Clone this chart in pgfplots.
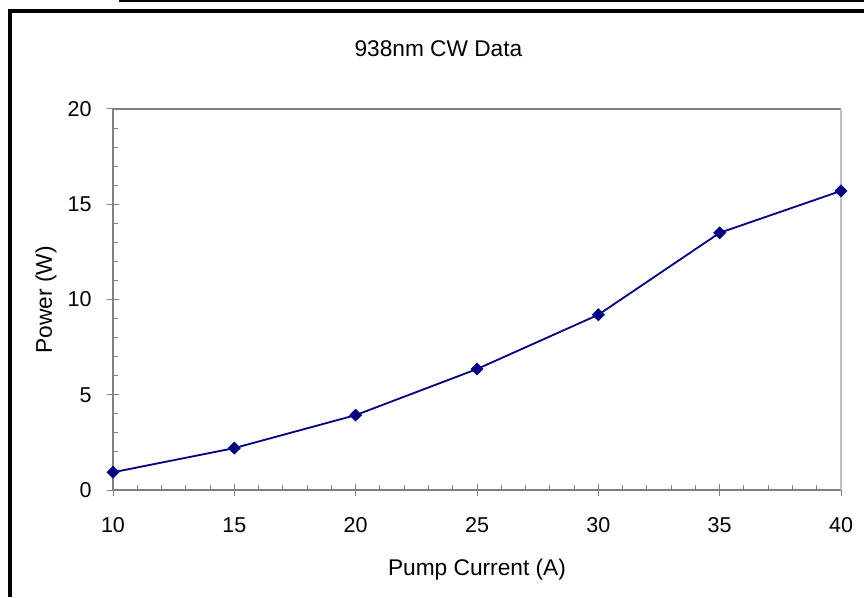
\documentclass[border=0pt]{standalone}
\usepackage{pgfplots}
\pgfplotsset{compat=1.18}
\usepackage{fontspec}
\setmainfont{Liberation Sans}
\definecolor{navyline}{RGB}{0,0,128}
\definecolor{axgray}{RGB}{128,128,128}
\definecolor{silverline}{RGB}{192,192,192}
\begin{document}
\begin{tikzpicture}[x=1pt,y=1pt]
\path[use as bounding box] (0,0) rectangle (864,597);
% outer frame
\draw[line width=4pt] (9.5,0) -- (9.5,585.7) -- (864,585.7);
\draw[line width=2pt] (119,596) -- (864,596);
\begin{axis}[
  at={(113pt,107pt)}, anchor=south west,
  scale only axis, width=728pt, height=381pt,
  xmin=10, xmax=40, ymin=0, ymax=20,
  axis lines=left, axis line style={-, axgray, line width=1.2pt},
  xtick={10,15,...,40}, ytick={0,5,...,20},
  minor x tick num=4, minor y tick num=4,
  tick align=inside, major tick length=12pt, minor tick length=5pt,
  tick style={axgray, line width=1pt},
  major x tick style={yshift=-6pt},
  major y tick style={xshift=-6pt},
  /pgf/number format/assume math mode=true,
  ticklabel style={font=\fontsize{21.5}{25}\selectfont},
  xticklabel style={yshift=-24pt},
  yticklabel style={xshift=-18pt},
  title={938nm CW Data},
  title style={at={(axis description cs:0.447,1.142)}, anchor=center, font=\fontsize{22.7}{27}\selectfont},
  xlabel={Pump Current (A)},
  xlabel style={at={(axis description cs:0.5,-0.21)}, anchor=center, font=\fontsize{22.7}{27}\selectfont},
  ylabel={Power (W)},
  ylabel style={at={(axis description cs:-0.092,0.4987)}, anchor=center, rotate=0, font=\fontsize{22.7}{27}\selectfont},
  clip=false,
]
\draw[axgray, line width=1.2pt] (rel axis cs:0,1) -- (rel axis cs:1,1);
\draw[silverline, line width=1.5pt] (rel axis cs:1,1) -- (rel axis cs:1,0);
\addplot[navyline, line width=1.8pt, mark=square*, mark size=4.3pt, mark options={rotate=45, fill=navyline, draw=navyline, line width=0.5pt}] coordinates {
(10,0.93) (15,2.2) (20,3.93) (25,6.35) (30,9.2) (35,13.5) (40,15.7)
};
\end{axis}
\end{tikzpicture}
\end{document}
